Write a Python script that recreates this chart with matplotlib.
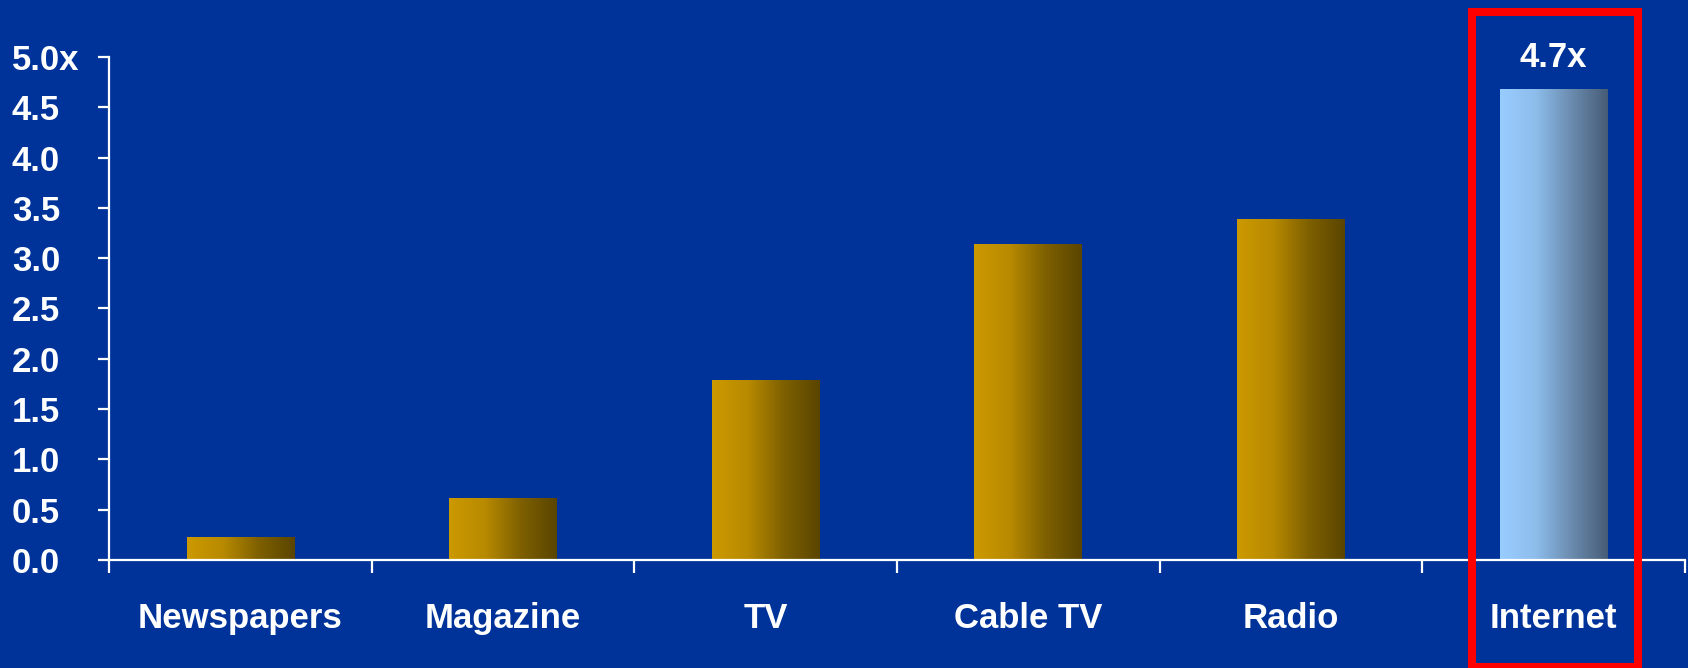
import numpy as np
import matplotlib.pyplot as plt
from matplotlib.colors import LinearSegmentedColormap
from matplotlib.patches import Rectangle

# data
categories = ["Newspapers", "Magazine", "TV", "Cable TV", "Radio", "Internet"]
values = [0.22, 0.61, 1.78, 3.14, 3.38, 4.68]
highlight = "Internet"
highlight_label = "4.7x"
ytick_vals = [0.0, 0.5, 1.0, 1.5, 2.0, 2.5, 3.0, 3.5, 4.0, 4.5, 5.0]
ytick_labels = ["0.0", "0.5", "1.0", "1.5", "2.0", "2.5", "3.0", "3.5", "4.0", "4.5", "5.0x"]

bg = "#003399"
gold = LinearSegmentedColormap.from_list("gold", ["#CC9900", "#B88A00", "#7E6000", "#5A4500"])
blue = LinearSegmentedColormap.from_list("blue", ["#99CCFF", "#8DBDEB", "#6A8BAE", "#465C76"])

plt.rcParams['font.family'] = ['Liberation Sans', 'DejaVu Sans']
plt.rcParams['font.weight'] = 'bold'

fig = plt.figure(figsize=(16.88, 6.68), dpi=100, facecolor=bg)
ax = fig.add_axes([0.0646, 0.1617, 0.9336, 0.753])
ax.set_facecolor(bg)

x = np.arange(len(categories))
bars = ax.bar(x, values, width=0.41, color="none", edgecolor="none")

grad = np.linspace(0, 1, 256).reshape(1, -1)
for b, cat in zip(bars, categories):
    cmap = blue if cat == highlight else gold
    x0, w, h = b.get_x(), b.get_width(), b.get_height()
    ax.imshow(grad, cmap=cmap, aspect="auto", extent=(x0, x0 + w, 0, h),
              interpolation="bilinear", zorder=2)

ax.set_xlim(-0.5, len(categories) - 0.5)
ax.set_ylim(0, 5)

# highlight value label
hi = categories.index(highlight)
ax.annotate(highlight_label, (x[hi], values[hi]), xytext=(0, 11),
            textcoords="offset points", ha="center", va="bottom",
            color="white", fontsize=25, fontweight="bold")

# axes styling
for s in ["top", "right"]:
    ax.spines[s].set_visible(False)
for s in ["left", "bottom"]:
    ax.spines[s].set_color("white")
    ax.spines[s].set_linewidth(1.6)

ax.set_yticks(ytick_vals)
ax.set_yticklabels(ytick_labels)
ax.tick_params(axis="y", colors="white", length=8, width=1.6, pad=62, labelsize=25)
for t in ax.get_yticklabels():
    t.set_horizontalalignment("left")
    t.set_fontweight("bold")

ax.set_xticks(np.arange(-0.5, len(categories), 1.0))
ax.set_xticklabels([])
ax.tick_params(axis="x", which="major", colors="white", length=9, width=1.6, direction="out")
ax.set_xticks(x, minor=True)
ax.set_xticklabels(categories, minor=True)
ax.tick_params(axis="x", which="minor", length=0, pad=30, labelsize=25, labelcolor="white")
for t in ax.get_xticklabels(minor=True):
    t.set_fontweight("bold")

# red highlight frame
fig.patches.append(Rectangle((1472 / 1688, 1 / 668), (1637.5 - 1472) / 1688, (656.3 - 1) / 668,
                             transform=fig.transFigure, fill=False, edgecolor="#FF0000",
                             linewidth=5.8, zorder=5))

fig.savefig("out.png", dpi=100, facecolor=bg)
